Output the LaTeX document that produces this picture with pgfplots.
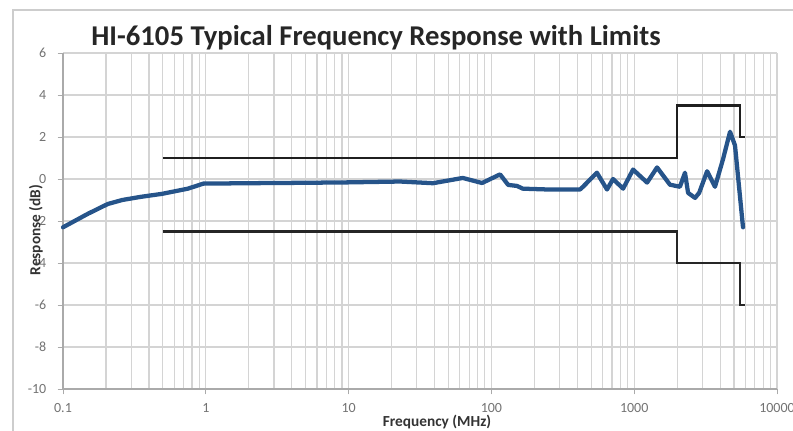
\documentclass[border=0pt]{standalone}
\usepackage{pgfplots}
\pgfplotsset{compat=1.18}
\usepackage{fontspec}
\setmainfont{Carlito}
\definecolor{curveblue}{RGB}{38,84,138}
\definecolor{gridgray}{RGB}{212,212,212}
\definecolor{tickgray}{RGB}{115,115,115}
\definecolor{framegray}{RGB}{205,205,205}
\begin{document}
\begin{tikzpicture}
\useasboundingbox (-47.25pt,-30.75pt) rectangle (547.5pt,291.75pt);
\draw[framegray, line width=1.4pt] (-37.5pt,-40pt) -- (-37.5pt,284.25pt) -- (560pt,284.25pt);
\begin{axis}[
  at={(0,0)}, anchor=south west,
  scale only axis,
  width=535.5pt, height=252pt,
  xmode=log, log basis x=10,
  xmin=0.1, xmax=10000,
  ymin=-10, ymax=6,
  xtick={0.1,1,10,100,1000,10000},
  xticklabels={0.1,1,10,100,1000,10000},
  ytick={-10,-8,-6,-4,-2,0,2,4,6},
  yticklabels={-10,-8,-6,-4,-2,0,2,4,6},
  minor xtick={0.2,0.3,0.4,0.5,0.6,0.7,0.8,0.9,2,3,4,5,6,7,8,9,20,30,40,50,60,70,80,90,200,300,400,500,600,700,800,900,2000,3000,4000,5000,6000,7000,8000,9000},
  grid=both,
  major grid style={gridgray, line width=0.9pt},
  minor grid style={gridgray, line width=0.9pt},
  axis line style={gridgray!80!black, line width=0.8pt},
  axis x line*=bottom, axis y line*=left,
  tick style={gridgray!80!black, line width=0.7pt},
  major tick length=4pt, minor tick length=0pt,
  tick align=outside,
  ticklabel style={font=\fontsize{10.5}{12}\selectfont, text=tickgray},
  xticklabel style={yshift=-3pt},
  yticklabel style={xshift=-5pt},
  clip=false,
]
\addplot[black!88, line width=1.8pt, line join=miter] coordinates {
  (0.5,1) (2000,1) (2000,3.5) (5500,3.5) (5500,2) (6000,2)
};
\addplot[black!85, line width=1.8pt, line join=miter] coordinates {
  (0.5,-2.5) (2000,-2.5) (2000,-4) (5500,-4) (5500,-6) (6000,-6)
};
\addplot[curveblue, line width=3.2pt, line join=round, line cap=round] coordinates {
  (0.1,-2.3) (0.15,-1.65) (0.206,-1.19) (0.26,-1.0) (0.35,-0.85) (0.49,-0.71)
  (0.75,-0.46) (0.96,-0.22) (2,-0.2) (5,-0.18) (10,-0.16) (22.9,-0.12)
  (39,-0.2) (63,0.05) (86,-0.19) (115,0.22) (131,-0.28) (151,-0.33) (166,-0.46)
  (250,-0.5) (417,-0.5) (438,-0.37) (548,0.3) (645,-0.5) (711,0.0) (836,-0.46)
  (982,0.45) (1231,-0.17) (1446,0.55) (1780,-0.27) (2090,-0.37) (2268,0.3)
  (2384,-0.66) (2668,-0.9) (2850,-0.66) (3240,0.37) (3680,-0.37) (4190,0.95)
  (4690,2.25) (5080,1.6) (5780,-2.3)
};
\end{axis}
\node[anchor=base, font=\fontsize{21.5}{24}\selectfont\bfseries, text=black!85] at (234.75pt,258pt) {HI-6105 Typical Frequency Response with Limits};
\node[anchor=center, font=\fontsize{11.5}{13}\selectfont\bfseries, text=black!80] at (280.5pt,-25pt) {Frequency (MHz)};
\node[anchor=center, rotate=90, font=\fontsize{11.5}{13}\selectfont\bfseries, text=black!80] at (-20.25pt,119.25pt) {Response (dB)};
\end{tikzpicture}
\end{document}
